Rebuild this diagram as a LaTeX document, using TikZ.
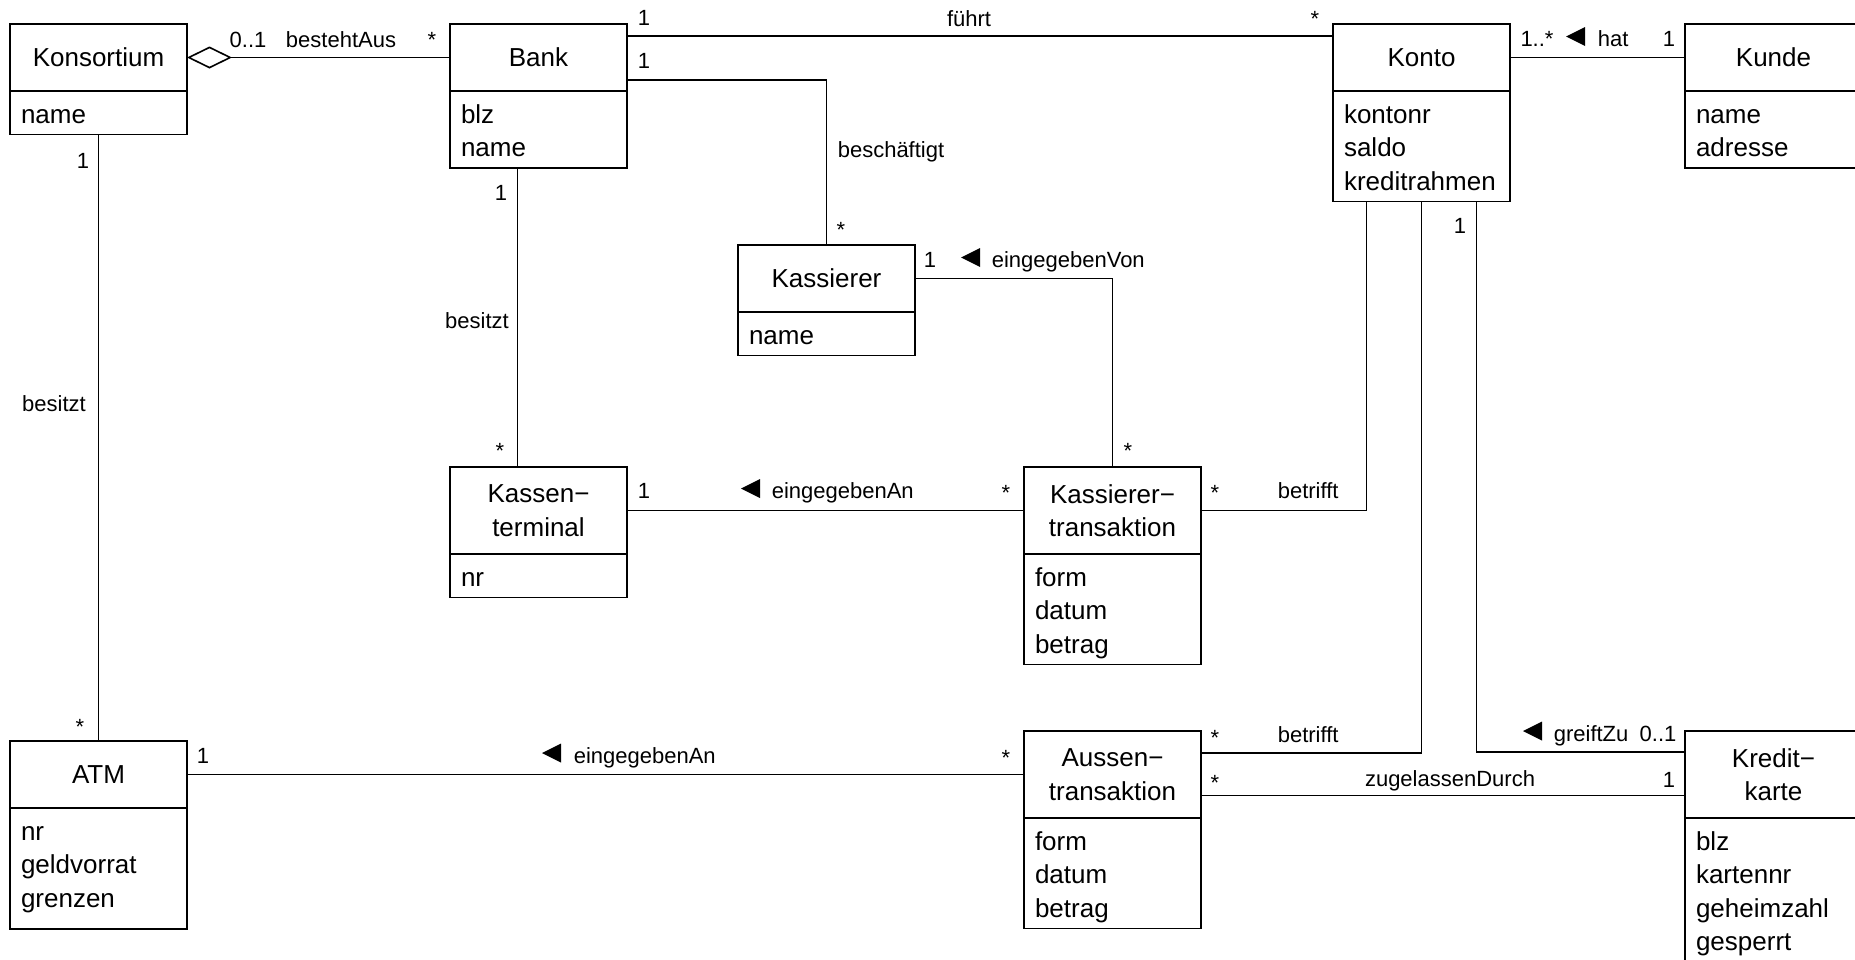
\documentclass[tikz,border=0pt]{standalone}
\usepackage{fontspec}
\setmainfont{Liberation Sans}
\usetikzlibrary{positioning,arrows.meta}

\begin{document}
\begin{tikzpicture}[x=0.5pt,y=-0.5pt,line width=0.8pt,
  cls/.style={draw,minimum width=88.5pt,minimum height=#1,inner sep=0pt,outer sep=0pt,align=center,font=\fontsize{13}{16.75}\selectfont},
  cls/.default=33.5pt,
  attr/.style={draw,text width=77.5pt,inner xsep=5.5pt,inner ysep=0pt,outer sep=0pt,align=left,text height=16pt,text depth=#1,font=\fontsize{13}{16.75}\selectfont},
  mul/.style={anchor=base,inner sep=0pt,font=\fontsize{11}{13}\selectfont},
  rel/.style={mul,anchor=base west}]
\useasboundingbox (0,0) rectangle (1855,959);
\clip (0,0) rectangle (1855,959);

% Klassen
\node[cls,anchor=north west] (konsT) at (10,24) {Konsortium};
\node[attr=5.75pt,below=0pt of konsT] (konsA) {name};
\node[cls,anchor=north west] (bankT) at (450,24) {Bank};
\node[attr=22.5pt,below=0pt of bankT] (bankA) {blz\\name};
\node[cls,anchor=north west] (kontoT) at (1333,24) {Konto};
\node[attr=39.25pt,below=0pt of kontoT] (kontoA) {kontonr\\saldo\\kreditrahmen};
\node[cls,anchor=north west] (kundeT) at (1685,24) {Kunde};
\node[attr=22.5pt,below=0pt of kundeT] (kundeA) {name\\adresse};
\node[cls,anchor=north west] (kassT) at (738,245) {Kassierer};
\node[attr=5.75pt,below=0pt of kassT] (kassA) {name};
\node[cls=43.5pt,anchor=north west] (ktermT) at (450,467) {Kassen−\\terminal};
\node[attr=5.75pt,below=0pt of ktermT] (ktermA) {nr};
\node[cls=43.5pt,anchor=north west] (ktransT) at (1024,467) {Kassierer−\\transaktion};
\node[attr=39.25pt,below=0pt of ktransT] (ktransA) {form\\datum\\betrag};
\node[cls,anchor=north west] (atmT) at (10,741) {ATM};
\node[attr=44.5pt,below=0pt of atmT] (atmA) {nr\\geldvorrat\\grenzen};
\node[cls=43.5pt,anchor=north west] (austT) at (1024,731) {Aussen−\\transaktion};
\node[attr=39.25pt,below=0pt of austT] (austA) {form\\datum\\betrag};
\node[cls=43.5pt,anchor=north west] (kkT) at (1685,731) {Kredit−\\karte};
\node[attr=56pt,below=0pt of kkT] (kkA) {blz\\kartennr\\geheimzahl\\gesperrt};

% Assoziationen
\draw[{Diamond[open,length=22.5pt,width=11pt]}-] (konsT) -- (bankT);
\draw ([yshift=-6pt]bankT.north east) -- ([yshift=-6pt]kontoT.north west);
\draw ([yshift=5.5pt]bankT.south east) -| (kassT.north);
\draw (konsA) -- (atmT);
\draw ([xshift=-10.5pt]bankA.south) -- ([xshift=-10.5pt]ktermT.north);
\draw (kassT.east) -| (ktransT.north);
\draw (ktermT) -- (ktransT);
\draw (ktransT.east) -| ([xshift=-27.5pt]kontoA.south);
\draw ([yshift=-11pt]austT.north east) -| (kontoA.south);
\draw ([yshift=-10.5pt]austT.east) -- ([yshift=-10.5pt]kkT.west);
\draw ([xshift=27.5pt]kontoA.south) |- ([yshift=-10.5pt]kkT.north west);
\draw (atmT) -- (austT);
\draw (kontoT) -- (kundeT);

% Beschriftungen
\node[mul] (m1) at (248,47) {0..1};
\node[mul] (n1) at (341,47) {bestehtAus};
\node[mul] (m2) at (432,47) {*};
\node[mul] (m3) at (644,25) {1};
\node[mul] (n2) at (969,26) {führt};
\node[mul] (m4) at (1315,26) {*};
\node[mul] (m5) at (644,68) {1};
\node[rel] (n3) at (837,157) {beschäftigt};
\node[mul] (m6) at (841,237) {*};
\node[mul] (m7) at (83,168) {1};
\node[mul] (n4) at (54,411) {besitzt};
\node[mul] (m8) at (80,734) {*};
\node[mul] (m9) at (501,200) {1};
\node[mul] (n5) at (477,328) {besitzt};
\node[mul] (m10) at (500,458) {*};
\node[mul] (m11) at (930,267) {1};
\fill (961,257.5) -- ++(19,-9.5) -- ++(0,19) -- cycle;
\node[rel] (n6) at (991,267) {eingegebenVon};
\node[mul] (m12) at (1128,458) {*};
\node[mul] (m13) at (644,498) {1};
\fill (741,488.5) -- ++(19,-9.5) -- ++(0,19) -- cycle;
\node[rel] (n7) at (771,498) {eingegebenAn};
\node[mul] (m14) at (1006,500) {*};
\node[mul] (m15) at (1215,500) {*};
\node[rel] (n8) at (1277,498) {betrifft};
\node[mul] (m16) at (203,763) {1};
\fill (542,753) -- ++(19,-9.5) -- ++(0,19) -- cycle;
\node[rel] (n9) at (573,763) {eingegebenAn};
\node[mul] (m17) at (1006,765) {*};
\node[mul] (m18) at (1215,745) {*};
\node[rel] (n10) at (1277,742) {betrifft};
\node[mul] (m19) at (1215,790) {*};
\node[mul] (n11) at (1450,786) {zugelassenDurch};
\node[mul] (m20) at (1669,787) {1};
\node[mul] (m21) at (1460,233) {1};
\fill (1523,731) -- ++(19,-9.5) -- ++(0,19) -- cycle;
\node[rel] (n12) at (1553,741) {greiftZu};
\node[mul] (m22) at (1658,741) {0..1};
\node[mul] (m23) at (1537,46) {1..*};
\fill (1566,36.5) -- ++(19,-9.5) -- ++(0,19) -- cycle;
\node[rel] (n13) at (1597,46) {hat};
\node[mul] (m24) at (1669,46) {1};
\end{tikzpicture}
\end{document}
